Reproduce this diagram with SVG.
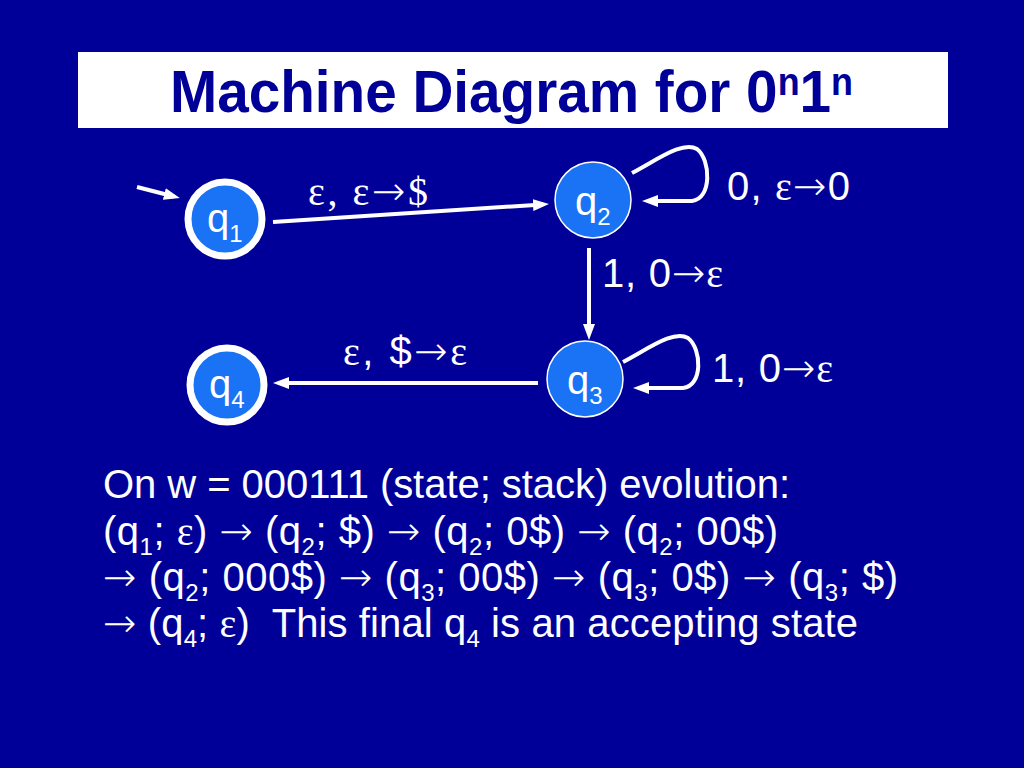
<svg xmlns="http://www.w3.org/2000/svg" width="1024" height="768" viewBox="0 0 1024 768">
<defs>
<style>
.sans{font-family:"Liberation Sans",Arial,sans-serif;fill:#fff}
.sym{font-family:"Liberation Serif","DejaVu Serif",serif}
.arr{font-family:"DejaVu Sans",sans-serif;font-weight:200}
.lbl{font-size:40px}
.sub{font-size:24px}
.edge{fill:none;stroke:#fff;stroke-width:4;marker-end:url(#ah)}
.st{fill:#1a72f5;stroke:#fff}
.acc{stroke-width:7}
.thin{stroke-width:1.5}
</style>
<marker id="ah" markerUnits="userSpaceOnUse" markerWidth="16" markerHeight="12" refX="10" refY="6" orient="auto">
<path d="M0,0 L16,6 L0,12 z" fill="#fff"/>
</marker>
</defs>
<rect width="1024" height="768" fill="#000099"/>
<g id="title">
<rect x="78" y="52" width="870" height="76" fill="#fff"/>
<text x="170" y="112" font-family="Liberation Sans,Arial,sans-serif" font-weight="bold" font-size="60" fill="#000099" textLength="683" lengthAdjust="spacingAndGlyphs">Machine Diagram for 0<tspan font-size="38" dy="-17">n</tspan><tspan dy="17">1</tspan><tspan font-size="38" dy="-17">n</tspan></text>
</g>
<g id="connectors">
<path class="edge" d="M137,187 L174,196.5"/>
<path class="edge" d="M273,222 L543,204.4"/>
<path class="edge" d="M632,173 C660,158 683,141 697,149 C711,160 712,199 692,201 L648,201"/>
<path class="edge" d="M589,248 L589,334"/>
<path class="edge" d="M623,362 C651,347 674,330 688,338 C702,349 703,386 683,388 L639,388"/>
<path class="edge" d="M538,383 L279,383"/>
<text class="sans lbl sym" x="308" y="205" textLength="120">ε, ε<tspan class="arr">→</tspan>$</text>
<text class="sans lbl" x="727" y="200" textLength="123">0, <tspan class="sym">ε</tspan><tspan class="arr">→</tspan>0</text>
<text class="sans lbl" x="602" y="287" textLength="121">1, 0<tspan class="arr">→</tspan><tspan class="sym">ε</tspan></text>
<text class="sans lbl" x="712" y="382" textLength="121">1, 0<tspan class="arr">→</tspan><tspan class="sym">ε</tspan></text>
<text class="sans lbl" x="343" y="365" textLength="124"><tspan class="sym">ε</tspan>, $<tspan class="arr">→</tspan><tspan class="sym">ε</tspan></text>
</g>
<g id="q1">
<circle class="st acc" cx="225" cy="219" r="37"/>
<text class="sans lbl" x="207" y="232">q<tspan class="sub" dy="10">1</tspan></text>
</g>
<g id="q2">
<circle class="st thin" cx="593" cy="200" r="38"/>
<text class="sans lbl" x="575" y="215">q<tspan class="sub" dy="10">2</tspan></text>
</g>
<g id="q3">
<circle class="st thin" cx="585" cy="379" r="38"/>
<text class="sans lbl" x="567" y="394">q<tspan class="sub" dy="10">3</tspan></text>
</g>
<g id="q4">
<circle class="st acc" cx="227" cy="385" r="37"/>
<text class="sans lbl" x="209" y="398">q<tspan class="sub" dy="10">4</tspan></text>
</g>
<g id="evolution" class="sans lbl">
<text x="103" y="498" textLength="687">On w = 000111 (state; stack) evolution:</text>
<text x="103" y="545" textLength="675">(q<tspan class="sub" dy="10">1</tspan><tspan dy="-10">; </tspan><tspan class="sym">ε</tspan>) <tspan class="arr">→</tspan> (q<tspan class="sub" dy="10">2</tspan><tspan dy="-10">; $) </tspan><tspan class="arr">→</tspan> (q<tspan class="sub" dy="10">2</tspan><tspan dy="-10">; 0$) </tspan><tspan class="arr">→</tspan> (q<tspan class="sub" dy="10">2</tspan><tspan dy="-10">; 00$)</tspan></text>
<text x="103" y="591" textLength="795"><tspan class="arr">→</tspan> (q<tspan class="sub" dy="10">2</tspan><tspan dy="-10">; 000$) </tspan><tspan class="arr">→</tspan> (q<tspan class="sub" dy="10">3</tspan><tspan dy="-10">; 00$) </tspan><tspan class="arr">→</tspan> (q<tspan class="sub" dy="10">3</tspan><tspan dy="-10">; 0$) </tspan><tspan class="arr">→</tspan> (q<tspan class="sub" dy="10">3</tspan><tspan dy="-10">; $)</tspan></text>
<text x="103" y="637" textLength="755" xml:space="preserve"><tspan class="arr">→</tspan> (q<tspan class="sub" dy="10">4</tspan><tspan dy="-10">; </tspan><tspan class="sym">ε</tspan>)  This final q<tspan class="sub" dy="10">4</tspan><tspan dy="-10"> is an accepting state</tspan></text>
</g>
</svg>
